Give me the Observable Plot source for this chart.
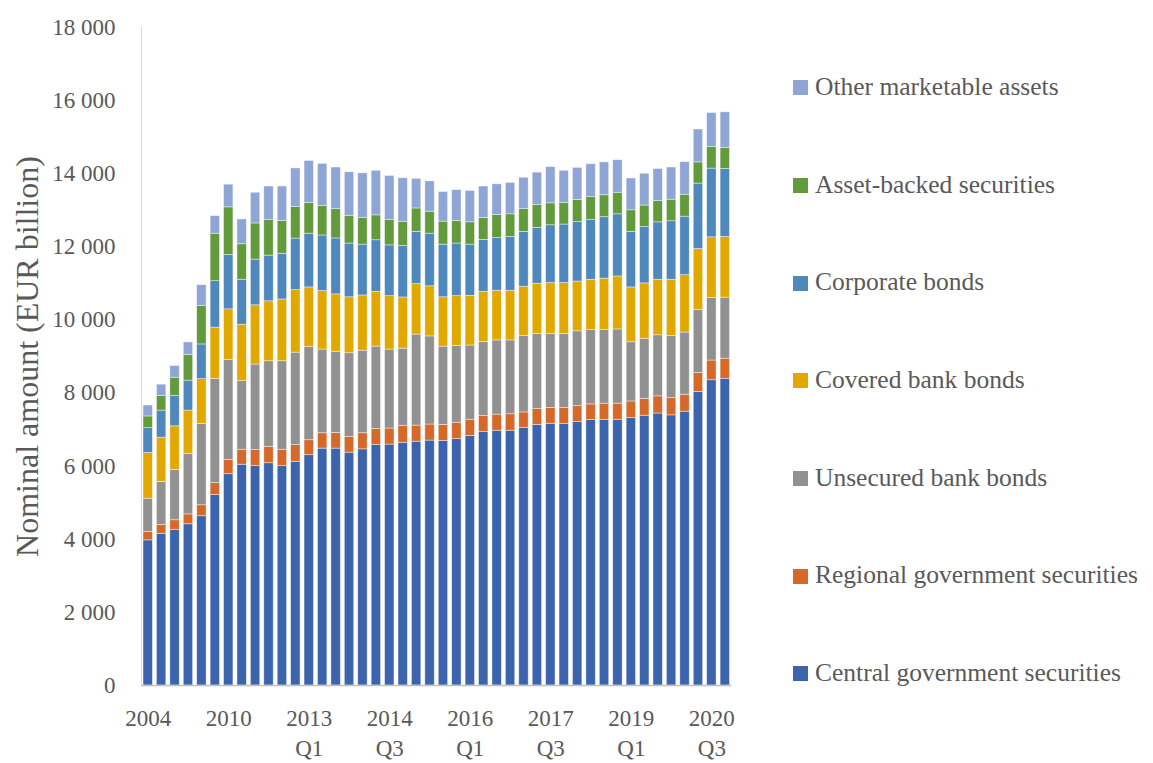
<!DOCTYPE html>
<html>
<head>
<meta charset="utf-8">
<script src="https://cdn.jsdelivr.net/npm/d3@7"></script>
<script src="https://cdn.jsdelivr.net/npm/@observablehq/plot@0.6"></script>
<style>
  html, body { margin: 0; padding: 0; background: #fff; }
  #wrap { position: relative; width: 1153px; height: 763px; font-family: "Liberation Serif", serif; color: #595959; }
  #chart { position: absolute; left: 0; top: 0; }
  #legend { position: absolute; left: 793px; top: 38px; display: flex; flex-direction: column; }
  .item { height: 97.7px; display: flex; align-items: center; font-size: 25.5px; white-space: nowrap; }
  .sw { width: 15px; height: 15px; margin-right: 7px; flex: none; position: relative; top: 1px; }
</style>
</head>
<body>
<div id="wrap"><div id="chart"></div><div id="legend"></div></div>
<script>
const periods = ["2004","2005","2006","2007","2008","2009","2010","2011",
  "2012 Q1","2012 Q2","2012 Q3","2012 Q4","2013 Q1","2013 Q2","2013 Q3","2013 Q4",
  "2014 Q1","2014 Q2","2014 Q3","2014 Q4","2015 Q1","2015 Q2","2015 Q3","2015 Q4",
  "2016 Q1","2016 Q2","2016 Q3","2016 Q4","2017 Q1","2017 Q2","2017 Q3","2017 Q4",
  "2018 Q1","2018 Q2","2018 Q3","2018 Q4","2019 Q1","2019 Q2","2019 Q3","2019 Q4",
  "2020 Q1","2020 Q2","2020 Q3","2020 Q4"];
const xTickLabels = ["2004","2010","2013 Q1","2014 Q3","2016 Q1","2017 Q3","2019 Q1","2020 Q3"];
const yTicks = [0,2000,4000,6000,8000,10000,12000,14000,16000,18000];

const seriesNames = ["Central government securities","Regional government securities","Unsecured bank bonds",
  "Covered bank bonds","Corporate bonds","Asset-backed securities","Other marketable assets"];
const seriesColors = ["#3b64ad","#d5692a","#919191","#e1a900","#4f88bd","#629a3c","#8fa5d6"];

const central = [3970,4150,4250,4410,4630,5210,5780,6040,6000,6080,6000,6120,6300,6480,6480,6370,6460,6580,6590,6640,6670,6700,6690,6740,6830,6930,6970,6970,7040,7130,7160,7150,7210,7260,7270,7270,7320,7380,7440,7390,7490,8030,8350,8390];
const regional = [230,240,270,270,300,330,390,410,440,450,450,455,410,420,430,430,440,440,440,455,440,440,440,450,440,440,440,450,430,430,430,440,430,430,440,440,450,460,470,470,465,520,540,550];
const unsecured = [910,1180,1380,1650,2220,2850,2740,1880,2340,2340,2420,2530,2550,2290,2220,2290,2260,2250,2160,2120,2490,2410,2140,2100,2030,2030,2030,2020,2090,2060,2030,2030,2050,2030,2020,2030,1620,1640,1670,1700,1700,1720,1710,1670];
const covered = [1250,1210,1190,1190,1230,1400,1380,1540,1620,1640,1690,1710,1630,1600,1570,1530,1510,1500,1460,1400,1380,1370,1350,1360,1360,1370,1360,1360,1350,1370,1390,1390,1360,1380,1400,1450,1500,1520,1520,1540,1570,1670,1660,1660];
const corporate = [680,740,830,820,950,1270,1490,1230,1250,1250,1250,1410,1470,1520,1530,1470,1390,1410,1390,1410,1430,1440,1440,1440,1400,1420,1440,1470,1500,1530,1580,1600,1630,1640,1680,1700,1520,1540,1570,1600,1600,1790,1880,1860];
const abs = [320,400,500,700,1050,1300,1300,970,990,970,900,870,840,810,800,760,730,680,700,660,640,600,630,620,610,600,630,620,630,620,600,590,600,620,600,590,590,590,580,590,600,580,590,570];
const other = [300,310,320,345,570,480,620,680,840,920,940,1050,1150,1150,1140,1190,1220,1220,1200,1190,810,830,810,840,860,860,840,860,850,890,990,880,880,900,900,890,870,870,880,880,890,900,930,980];

const seriesValues = [central, regional, unsecured, covered, corporate, abs, other];
const rows = [];
periods.forEach((p, i) => {
  seriesNames.forEach((s, j) => rows.push({period: p, series: s, value: seriesValues[j][i]}));
});

const fmt = d => d >= 1000 ? `${Math.floor(d / 1000)} ${String(d % 1000).padStart(3, "0")}` : String(d);

const chart = Plot.plot({
  width: 760,
  height: 763,
  marginLeft: 141,
  marginRight: 28.5,
  marginTop: 27,
  marginBottom: 78,
  style: {fontFamily: "Liberation Serif, serif", fontSize: "23px", color: "#595959", background: "transparent"},
  x: {domain: periods, paddingInner: 0.3, paddingOuter: 0.15, round: false, label: null},
  y: {domain: [0, 18000], label: null},
  color: {domain: seriesNames, range: seriesColors},
  marks: [
    Plot.frame({anchor: "left", stroke: "#d9d9d9"}),
    Plot.barY(rows, {x: "period", y: "value", fill: "series", order: seriesNames,
      stroke: "white", strokeWidth: 0.7, strokeOpacity: 0.6}),
    Plot.ruleY([0], {stroke: "#bfbfbf", strokeWidth: 1.3}),
    Plot.axisY({ticks: yTicks, tickSize: 0, tickPadding: 26, tickFormat: fmt, label: null, fontSize: 23}),
    Plot.axisX({ticks: xTickLabels, tickSize: 0, tickPadding: 19, tickFormat: d => d.replace(" ", "\n"),
      lineHeight: 1.3, label: null, fontSize: 23}),
    Plot.text(["Nominal amount (EUR billion)"], {frameAnchor: "left", textAnchor: "middle", rotate: -90, dx: -114,
      fontSize: 32, fill: "#595959"})
  ]
});
document.getElementById("chart").appendChild(chart);

const legend = document.getElementById("legend");
[...seriesNames].reverse().forEach(name => {
  const item = document.createElement("div");
  item.className = "item";
  const sw = document.createElement("span");
  sw.className = "sw";
  sw.style.background = seriesColors[seriesNames.indexOf(name)];
  const label = document.createElement("span");
  label.textContent = name;
  item.appendChild(sw);
  item.appendChild(label);
  legend.appendChild(item);
});
</script>
</body>
</html>
